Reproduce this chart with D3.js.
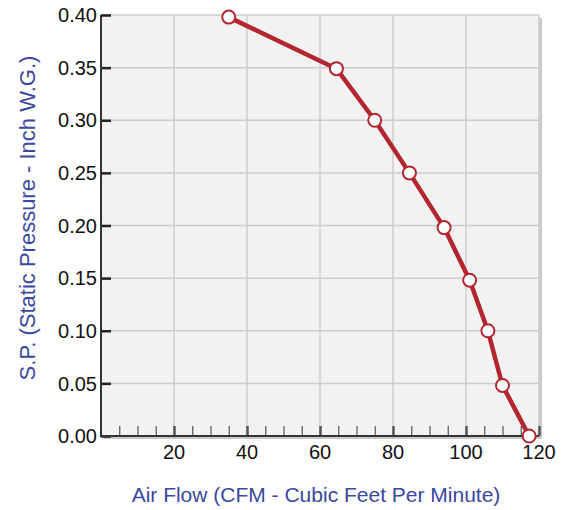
<!DOCTYPE html>
<html>
<head>
<meta charset="utf-8">
<script src="https://cdn.jsdelivr.net/npm/d3@7"></script>
<style>
  body { margin: 0; background: #fff; }
  text { font-family: "Liberation Sans", Arial, sans-serif; }
</style>
</head>
<body>
<div id="chart"></div>
<script>
// 风量 / 静压 数据
const airFlow = [35, 64.5, 75, 84.5, 94, 101, 106, 110, 117.3];
const staticPressure = [0.398, 0.349, 0.30, 0.25, 0.198, 0.148, 0.10, 0.048, 0];
const xTicks = [20, 40, 60, 80, 100, 120];
const yTicks = [0, 0.05, 0.10, 0.15, 0.20, 0.25, 0.30, 0.35, 0.40];

const width = 569, height = 510;
const margin = { top: 15, right: 30, bottom: 74, left: 101 };

const svg = d3.select('#chart').append('svg')
  .attr('width', width)
  .attr('height', height);

const x = d3.scaleLinear().domain([0, 120]).range([margin.left, width - margin.right]);
const y = d3.scaleLinear().domain([0, 0.40]).range([height - margin.bottom, margin.top]);

const x0 = x(0), x1 = x(120), y0 = y(0), y1 = y(0.40);

// 阴影
svg.append('rect')
  .attr('x', x0 + 3).attr('y', y1 + 3)
  .attr('width', x1 - x0).attr('height', y0 - y1)
  .attr('fill', '#c9c9c9');

// 背景
svg.append('rect')
  .attr('x', x0).attr('y', y1)
  .attr('width', x1 - x0).attr('height', y0 - y1)
  .attr('fill', '#f2f2f2');

// 网格
svg.append('g').selectAll('line').data(xTicks)
  .join('line')
  .attr('x1', d => x(d)).attr('x2', d => x(d))
  .attr('y1', y1).attr('y2', y0)
  .attr('stroke', '#cccccc').attr('stroke-width', 1.5);

svg.append('g').selectAll('line').data(yTicks)
  .join('line')
  .attr('x1', x0).attr('x2', x1)
  .attr('y1', d => y(d)).attr('y2', d => y(d))
  .attr('stroke', '#cccccc').attr('stroke-width', 1.5);

// x 轴
const xAxis = svg.append('g').attr('transform', `translate(0,${y0})`);
xAxis.call(d3.axisBottom(x).tickValues(d3.range(5, 121, 5)).tickSize(-10).tickFormat(''))
  .call(g => g.select('.domain').remove())
  .call(g => g.selectAll('.tick line')
    .attr('stroke', '#555')
    .attr('stroke-width', d => d % 20 === 0 ? 2.5 : 1.2));
xAxis.selectAll('.lbl').data(xTicks)
  .join('text')
  .attr('class', 'lbl')
  .attr('x', d => x(d)).attr('y', 23)
  .attr('text-anchor', 'middle')
  .attr('font-size', 20)
  .attr('fill', '#111')
  .text(d => d);

// y 轴
const yAxis = svg.append('g').attr('transform', `translate(${x0},0)`);
yAxis.call(d3.axisLeft(y).tickValues(yTicks).tickSize(-10).tickFormat(''))
  .call(g => g.select('.domain').remove())
  .call(g => g.selectAll('.tick line').attr('stroke', '#222').attr('stroke-width', 2.5));
yAxis.selectAll('.lbl').data(yTicks)
  .join('text')
  .attr('class', 'lbl')
  .attr('x', -4).attr('y', d => y(d))
  .attr('dy', '0.36em')
  .attr('text-anchor', 'end')
  .attr('font-size', 20)
  .attr('fill', '#111')
  .text(d => d3.format('.2f')(d));

// 轴线
svg.append('line')
  .attr('x1', x0).attr('x2', x1).attr('y1', y0).attr('y2', y0)
  .attr('stroke', '#333').attr('stroke-width', 2);
svg.append('line')
  .attr('x1', x0).attr('x2', x0).attr('y1', y1).attr('y2', y0 + 1)
  .attr('stroke', '#333').attr('stroke-width', 2);

// 轴标题
svg.append('text')
  .attr('x', 316).attr('y', 502)
  .attr('text-anchor', 'middle')
  .attr('font-size', 21)
  .attr('fill', '#3a48a0')
  .text('Air Flow (CFM - Cubic Feet Per Minute)');

svg.append('text')
  .attr('transform', `translate(35,218) rotate(-90)`)
  .attr('text-anchor', 'middle')
  .attr('font-size', 22)
  .attr('fill', '#3a48a0')
  .text('S.P. (Static Pressure - Inch W.G.)');

// 曲线
const points = airFlow.map((d, i) => [d, staticPressure[i]]);
svg.append('path')
  .datum(points)
  .attr('fill', 'none')
  .attr('stroke', '#b3262f')
  .attr('stroke-width', 4.5)
  .attr('stroke-linejoin', 'round')
  .attr('d', d3.line().x(d => x(d[0])).y(d => y(d[1])));

svg.append('g').selectAll('circle').data(points)
  .join('circle')
  .attr('cx', d => x(d[0])).attr('cy', d => y(d[1]))
  .attr('r', 6.5)
  .attr('fill', '#fff')
  .attr('stroke', '#b3262f')
  .attr('stroke-width', 2);
</script>
</body>
</html>
